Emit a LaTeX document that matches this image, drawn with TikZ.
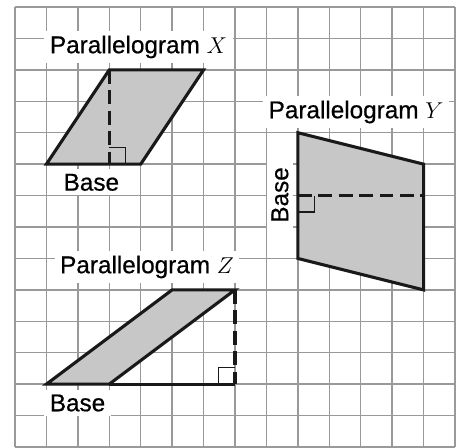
\documentclass[tikz,border=0pt]{standalone}
\usepackage{fontspec}
\setmainfont{Liberation Sans}
\newfontfamily\tagfont[FakeBold=0.6]{Liberation Sans}
\usetikzlibrary{positioning}

\begin{document}
\begin{tikzpicture}[x=1cm, y=1cm,
  gridline/.style={draw=black!40, line width=1.3pt},
  shapefill/.style={fill=black!22, draw=black!90, line width=2.8pt, line join=miter},
  edgeline/.style={draw=black!90, line width=2.8pt},
  heightline/.style={draw=black!90, line width=2.8pt, dash pattern=on 12.5pt off 6pt},
  rightmark/.style={draw=black!90, line width=1.2pt},
  tag/.style={fill=white, inner xsep=5pt, inner ysep=4pt, font=\tagfont\fontsize{22}{26}\selectfont}]
% Page frame and square grid (one cell = 1cm)
\def\marksize{0.52}
\fill[white] (-0.477,0) rectangle (14.159,14.223);
\useasboundingbox (-0.477,0) rectangle (14.159,14.223);
\foreach \i in {0,...,14} {
  \draw[gridline] (\i,0) -- (\i,14);
  \draw[gridline] (0,\i) -- (14,\i);
}

% Corners of the three parallelograms
\coordinate (xa) at (1,9);
\coordinate (xb) at (4,9);
\coordinate (xc) at (6,12);
\coordinate (xd) at (3,12);
\coordinate (xh) at (3,9);

\coordinate (ya) at (9,10);
\coordinate (yb) at (13,9);
\coordinate (yc) at (13,5);
\coordinate (yd) at (9,6);
\coordinate (yl) at (9,8);
\coordinate (yr) at (13,8);

\coordinate (za) at (1,2);
\coordinate (zb) at (3,2);
\coordinate (zc) at (7,5);
\coordinate (zd) at (5,5);
\coordinate (zh) at (7,2);

% Labels on white boxes
\node[tag] (xname) at (3.93,12.73) {Parallelogram $X$};
\node[tag] (xbase) at (2.43,8.42) {Base};
\node[tag] (yname) at (10.85,10.66) {Parallelogram $Y$};
\node[tag, rotate=90] (ybase) at (8.43,8.02) {Base};
\node[tag] (zname) at (4.2,5.73) {Parallelogram $Z$};
\node[tag] (zbase) at (1.99,1.4) {Base};

% Parallelogram X
\draw[shapefill] (xa) -- (xb) -- (xc) -- (xd) -- cycle;
\draw[heightline] (xd) -- (xh);
\draw[rightmark] (xh) ++(0,\marksize) -- ++(\marksize,0) -- ++(0,-\marksize);

% Parallelogram Y
\draw[shapefill] (ya) -- (yb) -- (yc) -- (yd) -- cycle;
\draw[heightline] (yl) -- (yr);
\draw[rightmark] (yl) ++(\marksize,0) -- ++(0,-\marksize) -- ++(-\marksize,0);

% Parallelogram Z
\draw[shapefill] (za) -- (zb) -- (zc) -- (zd) -- cycle;
\draw[edgeline] (zb) -- (zh);
\draw[heightline] (zc) -- (zh);
\draw[rightmark] (zh) ++(-\marksize,0) -- ++(0,\marksize) -- ++(\marksize,0);

\end{tikzpicture}
\end{document}
